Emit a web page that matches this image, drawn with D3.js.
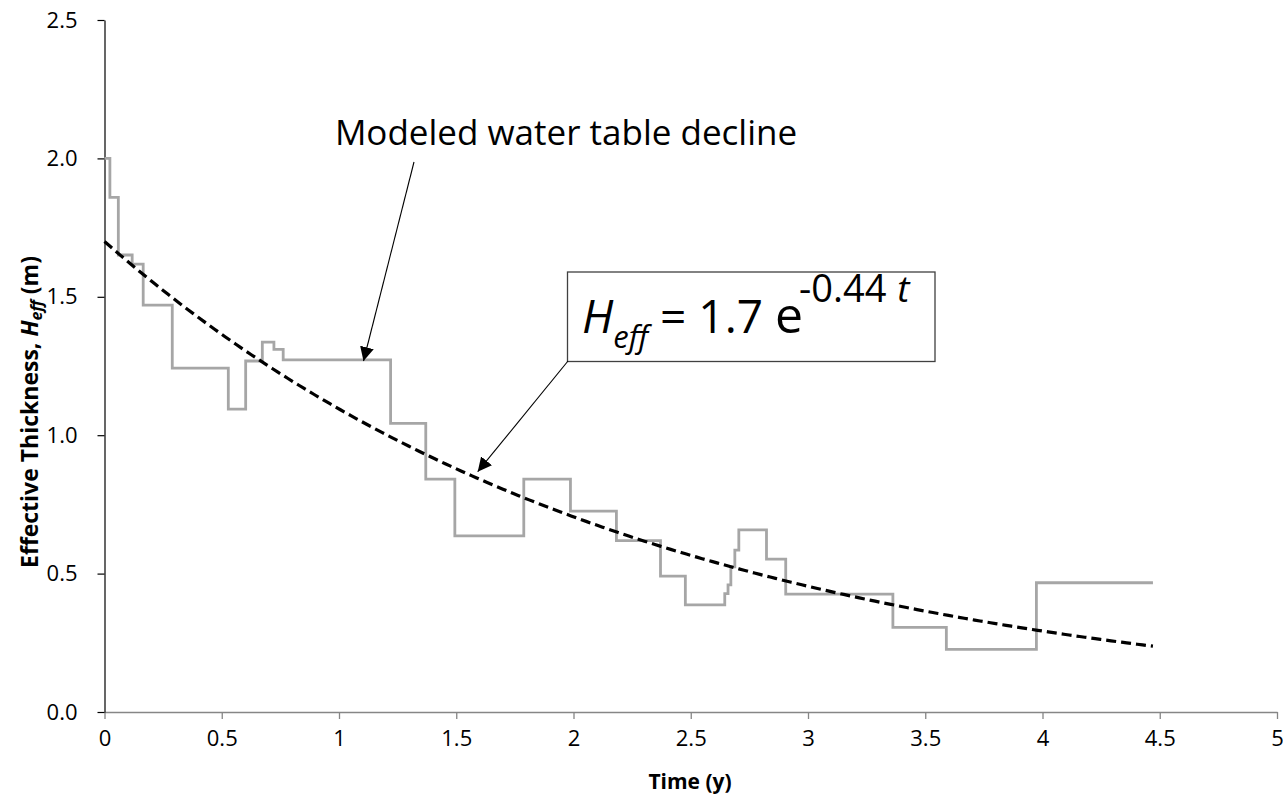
<!DOCTYPE html>
<html>
<head>
<meta charset="utf-8">
<script src="https://cdn.jsdelivr.net/npm/d3@7"></script>
<style>
  html, body { margin: 0; padding: 0; background: #fff; }
  svg { display: block; }
  text { font-family: "Open Sans", Lato, sans-serif; fill: #000; }
</style>
</head>
<body>
<svg id="chart" width="1283" height="797"></svg>
<script>
// Modeled effective thickness: each level holds from its start time until the next one.
const stepTimes  = [0, 0.023, 0.059, 0.118, 0.165, 0.289, 0.528, 0.602, 0.673, 0.7225, 0.762,
                    1.22, 1.37, 1.494, 1.788, 1.987, 2.183, 2.371, 2.477, 2.645, 2.659, 2.671,
                    2.688, 2.705, 2.823, 2.905, 3.362, 3.59, 3.974];
const stepLevels = [2.0, 1.859, 1.651, 1.618, 1.47, 1.242, 1.094, 1.268, 1.336, 1.31, 1.272,
                    1.043, 0.841, 0.636, 0.841, 0.726, 0.619, 0.491, 0.387, 0.428, 0.459, 0.524,
                    0.585, 0.658, 0.552, 0.426, 0.306, 0.2265, 0.467];
const endTime = 4.471;

// Exponential fit H = a * exp(-k t)
const fitCoeffs = [1.7, 0.44];   // [a, k]

const xTicks = [0, 0.5, 1, 1.5, 2, 2.5, 3, 3.5, 4, 4.5, 5];
const xTickLabels = ["0", "0.5", "1", "1.5", "2", "2.5", "3", "3.5", "4", "4.5", "5"];
const yTicks = [0, 0.5, 1.0, 1.5, 2.0, 2.5];
const yTickLabels = ["0.0", "0.5", "1.0", "1.5", "2.0", "2.5"];

const svg = d3.select("#chart");
const x = d3.scaleLinear().domain([0, 5]).range([104.5, 1277]);
const y = d3.scaleLinear().domain([0, 2.5]).range([712, 20]);

svg.append("defs").append("marker")
  .attr("id", "arrowhead")
  .attr("viewBox", "0 0 10 10")
  .attr("refX", 10).attr("refY", 5)
  .attr("markerWidth", 14).attr("markerHeight", 14)
  .attr("markerUnits", "userSpaceOnUse")
  .attr("orient", "auto")
  .append("path").attr("d", "M0,0 L10,5 L0,10 z").attr("fill", "#000");

// X axis (grey line, outside ticks)
const xAxis = svg.append("g")
  .attr("transform", `translate(0,${y(0)})`)
  .call(d3.axisBottom(x).tickValues(xTicks)
    .tickFormat((d, i) => xTickLabels[i]).tickSizeInner(7).tickSizeOuter(0).tickPadding(11));
xAxis.select(".domain").attr("stroke", "#868686").attr("stroke-width", 1.3);
xAxis.selectAll(".tick line").attr("stroke", "#868686").attr("stroke-width", 1.3);
xAxis.selectAll(".tick text").attr("font-size", 22).attr("font-family", "'Open Sans', sans-serif").attr("fill", "#000");

// Y axis (black line, outside ticks)
const yAxis = svg.append("g")
  .attr("transform", `translate(${x(0)},0)`)
  .call(d3.axisLeft(y).tickValues(yTicks)
    .tickFormat((d, i) => yTickLabels[i]).tickSizeInner(7).tickSizeOuter(0).tickPadding(20));
yAxis.select(".domain").attr("stroke", "#000").attr("stroke-width", 1.2);
yAxis.selectAll(".tick line").attr("stroke", "#000").attr("stroke-width", 1.2);
yAxis.selectAll(".tick text").attr("font-size", 22).attr("font-family", "'Open Sans', sans-serif").attr("fill", "#000");

// Step series
const stepPts = stepTimes.map((t, i) => [t, stepLevels[i]]);
stepPts.push([endTime, stepLevels[stepLevels.length - 1]]);
const stepLine = d3.line().x(d => x(d[0])).y(d => y(d[1])).curve(d3.curveStepAfter);
svg.append("path")
  .attr("d", stepLine(stepPts))
  .attr("fill", "none")
  .attr("stroke", "#a6a6a6")
  .attr("stroke-width", 2.8)
  .attr("stroke-linejoin", "miter");

// Fitted exponential, dashed
const [fitA, fitK] = fitCoeffs;
const fitPts = d3.range(0, 201).map(i => {
  const t = endTime * i / 200;
  return [t, fitA * Math.exp(-fitK * t)];
});
svg.append("path")
  .attr("d", d3.line().x(d => x(d[0])).y(d => y(d[1]))(fitPts))
  .attr("fill", "none")
  .attr("stroke", "#000")
  .attr("stroke-width", 3.2)
  .attr("stroke-dasharray", "10,5");

// Annotation: modeled water table decline
svg.append("text")
  .attr("x", 566).attr("y", 145)
  .attr("text-anchor", "middle")
  .attr("font-size", 35)
  .text("Modeled water table decline");
svg.append("line")
  .attr("x1", 414).attr("y1", 162).attr("x2", 363.5).attr("y2", 361)
  .attr("stroke", "#000").attr("stroke-width", 1.1)
  .attr("marker-end", "url(#arrowhead)");

// Equation box
svg.append("rect")
  .attr("x", 567.5).attr("y", 272).attr("width", 367.5).attr("height", 89.5)
  .attr("fill", "#fff").attr("stroke", "#404040").attr("stroke-width", 1.3);
const eq = svg.append("text").attr("x", 582).attr("y", 333).attr("font-size", 46)
  .attr("font-family", "Lato, sans-serif");
eq.append("tspan").attr("font-style", "italic").text("H");
eq.append("tspan").attr("font-style", "italic").attr("font-size", 31).attr("dy", 15).text("eff");
eq.append("tspan").attr("dy", -15).text(" = 1.7 ");
eq.append("tspan").attr("font-size", 50).text("e");
eq.append("tspan").attr("font-size", 38).attr("dx", -4).attr("dy", -31).text("-0.44 ");
eq.append("tspan").attr("font-size", 37).attr("dx", 1).attr("font-style", "italic").text("t");
svg.append("line")
  .attr("x1", 568).attr("y1", 361).attr("x2", 477.7).attr("y2", 471.7)
  .attr("stroke", "#000").attr("stroke-width", 1.1)
  .attr("marker-end", "url(#arrowhead)");

// Axis titles
svg.append("text")
  .attr("x", 690).attr("y", 789)
  .attr("text-anchor", "middle")
  .attr("font-size", 21).attr("font-weight", "bold")
  .text("Time (y)");
const yTitle = svg.append("text")
  .attr("transform", "translate(38,412) rotate(-90)")
  .attr("text-anchor", "middle")
  .attr("font-size", 23).attr("font-weight", "bold");
yTitle.append("tspan").text("Effective Thickness, ");
yTitle.append("tspan").attr("font-style", "italic").text("H");
yTitle.append("tspan").attr("font-style", "italic").attr("font-size", 16).attr("dy", 4).text("eff");
yTitle.append("tspan").attr("dy", -4).text(" (m)");
</script>
</body>
</html>
